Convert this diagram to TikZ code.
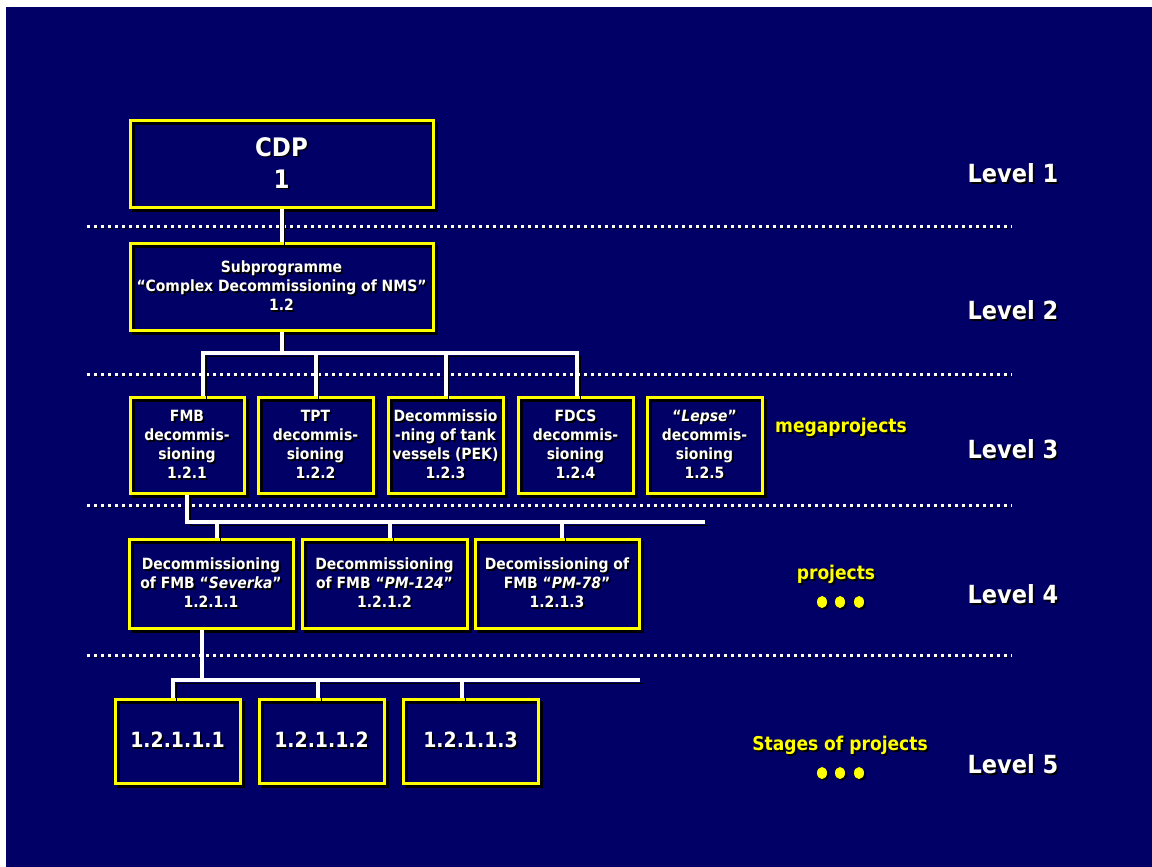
\documentclass[tikz,border=0pt]{standalone}
\usepackage{fontspec}
\setmainfont{DejaVu Sans Condensed}[UprightFont=* Bold, ItalicFont=* Bold Oblique]
\usetikzlibrary{calc}
\definecolor{navy}{RGB}{0,0,102}
\definecolor{yel}{RGB}{255,255,0}
% text with a hard black drop shadow
\newcommand\sh[1]{\leavevmode\rlap{\kern1.8pt\raisebox{-1.8pt}{\color{black}#1}}#1}

\begin{document}
\begin{tikzpicture}[x=1pt,y=-1pt,
  sdw/.style={preaction={draw=black,transform canvas={shift={(3pt,-3pt)}}}},
  box/.style={draw=yel,line width=3pt,sdw,inner sep=0pt,text=white,align=center,
    font=\fontsize{15.5}{19}\selectfont},
  big/.style={font=\fontsize{25.5}{32}\selectfont},
  num/.style={font=\fontsize{21}{25}\selectfont},
  conn/.style={draw=white,line width=4pt,sdw},
  dotline/.style={draw=white,line width=3pt,dash pattern=on 3pt off 4pt,
    preaction={draw=black,dash pattern=on 3pt off 4pt,transform canvas={shift={(2pt,-2pt)}}}},
  lvl/.style={text=white,inner sep=0pt,font=\fontsize{25}{30}\selectfont},
  ylab/.style={text=yel,inner sep=0pt,font=\fontsize{19}{23}\selectfont},
  ydot/.style={fill=yel,x radius=5pt,y radius=6pt}
]
\useasboundingbox (0,0) rectangle (1152,867);
\fill[navy] (6,7) rectangle (1152,867);

% separators between levels
\foreach \yy in {226,374,505,655}
  \draw[dotline] (87,\yy) -- (1012,\yy);

% level 1 and 2
\node[box,big,minimum width=303,minimum height=87] (cdp) at (281.5,163.5) {\sh{CDP}\\\sh{1}};
\node[box,minimum width=303,minimum height=87] (sub) at (281.5,286.5)
  {\sh{Subprogramme}\\\sh{“Complex Decommissioning of NMS”}\\\sh{1.2}};

% level 3: megaprojects
\node[box,minimum width=114,minimum height=96] (fmb) at (187,445)
  {\sh{FMB}\\\sh{decommis-}\\\sh{sioning}\\\sh{1.2.1}};
\node[box,minimum width=115,minimum height=96] (tpt) at (315.5,445)
  {\sh{TPT}\\\sh{decommis-}\\\sh{sioning}\\\sh{1.2.2}};
\node[box,minimum width=115,minimum height=96] (pek) at (445.5,445)
  {\sh{Decommissio}\\\sh{-ning of tank}\\\sh{vessels (PEK)}\\\sh{1.2.3}};
\node[box,minimum width=115,minimum height=96] (fdcs) at (575.5,445)
  {\sh{FDCS}\\\sh{decommis-}\\\sh{sioning}\\\sh{1.2.4}};
\node[box,minimum width=115,minimum height=96] (lepse) at (704.5,445)
  {\sh{“\textit{Lepse}”}\\\sh{decommis-}\\\sh{sioning}\\\sh{1.2.5}};

% level 4: projects
\node[box,minimum width=164,minimum height=89] (p1) at (211,583.5)
  {\sh{Decommissioning}\\\sh{of FMB “\textit{Severka}”}\\\sh{1.2.1.1}};
\node[box,minimum width=165,minimum height=89] (p2) at (384.5,583.5)
  {\sh{Decommissioning}\\\sh{of FMB “\textit{PM-124}”}\\\sh{1.2.1.2}};
\node[box,minimum width=164,minimum height=89] (p3) at (557,583.5)
  {\sh{Decomissioning of}\\\sh{FMB “\textit{PM-78}”}\\\sh{1.2.1.3}};

% level 5: stages
\node[box,num,minimum width=125,minimum height=84] (s1) at (177.5,741) {\sh{1.2.1.1.1}};
\node[box,num,minimum width=125,minimum height=84] (s2) at (321.5,741) {\sh{1.2.1.1.2}};
\node[box,num,minimum width=135,minimum height=84] (s3) at (470.5,741) {\sh{1.2.1.1.3}};

% connectors
\draw[conn] (cdp.south) -- (sub.north);

\coordinate (b2l) at (203,353);
\coordinate (b2r) at (577,353);
\draw[conn] (sub.south) -- (sub.south |- b2l)
  (b2l |- fmb.north) -- (b2l) -- (b2r) -- (b2r |- fdcs.north)
  (tpt.north |- b2l) -- (tpt.north)
  (pek.north |- b2l) -- (pek.north);

\coordinate (b3r) at (705,522);
\coordinate (d41) at ($(p1.north)+(6,0)$);
\coordinate (d42) at ($(p2.north)+(5.5,0)$);
\coordinate (d43) at ($(p3.north)+(5,0)$);
\draw[conn] (fmb.south) -- (fmb.south |- b3r) -- (b3r)
  (d41 |- b3r) -- (d41)
  (d42 |- b3r) -- (d42)
  (d43 |- b3r) -- (d43);

\coordinate (u5) at ($(p1.south)+(-9,0)$);
\coordinate (b5r) at (640,680);
\coordinate (d51) at ($(s1.north)+(-4.5,0)$);
\coordinate (d52) at ($(s2.north)+(-3.5,0)$);
\coordinate (d53) at ($(s3.north)+(-8.5,0)$);
\draw[conn] (u5) -- (u5 |- b5r)
  (d51) -- (d51 |- b5r) -- (b5r)
  (d52 |- b5r) -- (d52)
  (d53 |- b5r) -- (d53);

% level captions
\node[lvl] (l1) at (1013,174) {\sh{Level 1}};
\node[lvl] (l2) at (1013,311) {\sh{Level 2}};
\node[lvl] (l3) at (1013,450) {\sh{Level 3}};
\node[lvl] (l4) at (1013,595) {\sh{Level 4}};
\node[lvl] (l5) at (1013,765) {\sh{Level 5}};

% category captions
\node[ylab] (mega) at (841,428) {\sh{megaprojects}};
\node[ylab] (proj) at (836,575) {\sh{projects}};
\node[ylab] (stag) at (840,746) {\sh{Stages of projects}};

% ellipsis dots
\foreach \xx in {822,840,859} {
  \fill[black] (\xx+1.8,603.8) ellipse [x radius=5pt,y radius=6pt];
  \fill[yel] (\xx,602) ellipse [x radius=5pt,y radius=6pt];
  \fill[black] (\xx+1.8,774.8) ellipse [x radius=5pt,y radius=6pt];
  \fill[yel] (\xx,773) ellipse [x radius=5pt,y radius=6pt];
}
\end{tikzpicture}
\end{document}
